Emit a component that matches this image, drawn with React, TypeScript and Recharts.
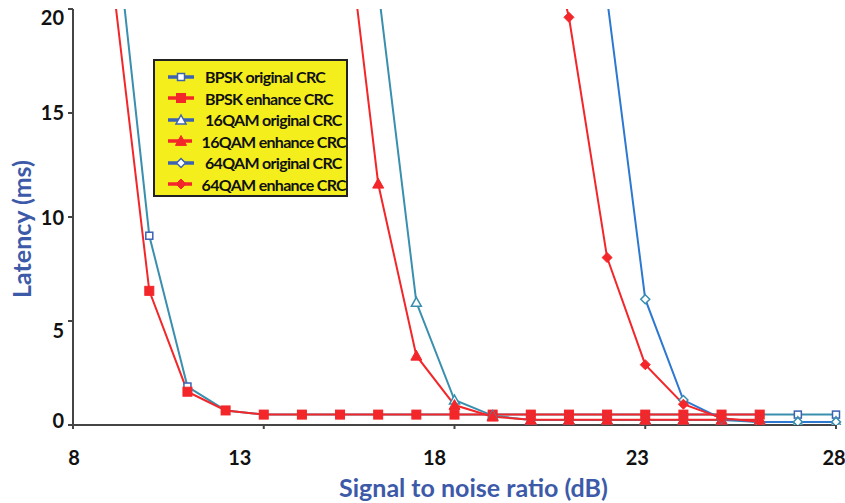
import React from 'react';
import {
  LineChart,
  Line,
  XAxis,
  YAxis,
  Legend,
} from 'recharts';

// SNR (dB) categories, one per integer step
const snr = [9, 10, 11, 12, 13, 14, 15, 16, 17, 18, 19, 20, 21, 22, 23, 24, 25, 26, 27, 28];

// latency (ms); values above 20 leave the plot at the top
const bpskOriginal = [26, 9.1, 1.85, 0.7, 0.5, 0.5, 0.5, 0.5, 0.5, 0.5, 0.5, 0.5, 0.5, 0.5, 0.5, 0.5, 0.5, 0.5, 0.5, 0.5];
const bpskEnhance = [22, 6.45, 1.6, 0.7, 0.5, 0.5, 0.5, 0.5, 0.5, 0.5, 0.5, 0.5, 0.5, 0.5, 0.5, 0.5, 0.5, 0.5, null, null];
const qam16Original = [null, null, null, null, null, null, null, 21, 5.9, 1.2, 0.45, 0.24, 0.24, 0.24, 0.24, 0.24, 0.24, 0.15, 0.15, 0.15];
const qam16Enhance = [null, null, null, null, null, null, 27, 11.6, 3.33, 0.96, 0.4, 0.25, 0.25, 0.25, 0.25, 0.25, 0.25, 0.25, null, null];
const qam64Original = [null, null, null, null, null, null, null, null, null, null, null, null, null, 20.5, 6.05, 1.2, 0.3, 0.15, 0.15, 0.15];
const qam64Enhance = [null, null, null, null, null, null, null, null, null, null, null, 27, 19.6, 8.05, 2.9, 1.0, 0.33, 0.16, null, null];

const xTicks = [8, 13, 18, 23, 28];
const yTicks = [0, 5, 10, 15, 20];

// small nudges of the tick labels, as they sit in the original figure
const xLabelShift: Record<number, number> = { 8: 1, 13: -24, 18: -20, 23: -8, 28: -2 };
const yLabelShift: Record<number, number> = { 0: -4, 5: 10, 10: 1, 15: 0, 20: 9 };

const data = snr.map((s, i) => ({
  snr: s,
  bpskO: bpskOriginal[i],
  bpskE: bpskEnhance[i],
  q16O: qam16Original[i],
  q16E: qam16Enhance[i],
  q64O: qam64Original[i],
  q64E: qam64Enhance[i],
}));

const RED = '#f3262a';
const TEAL = '#3a8fae';
const BLUE = '#2d78d0';
const MARK_BLUE = '#3c62b2';
const TITLE_BLUE = '#3d5aa9';
const FONT = 'Lato, "Open Sans", sans-serif';

type Shape = 'square' | 'triangle' | 'diamond';

function Marker({ cx, cy, shape, filled, color }: { cx: number; cy: number; shape: Shape; filled: boolean; color: string }) {
  const fill = filled ? color : '#fff';
  const sw = filled ? 1 : 1.5;
  if (shape === 'square') {
    const s = filled ? 9 : 7;
    return <rect x={cx - s / 2} y={cy - s / 2} width={s} height={s} fill={fill} stroke={color} strokeWidth={sw} />;
  }
  if (shape === 'triangle') {
    const s = filled ? 5.5 : 5;
    return (
      <polygon
        points={`${cx},${cy - s} ${cx + s},${cy + s * 0.8} ${cx - s},${cy + s * 0.8}`}
        fill={fill}
        stroke={color}
        strokeWidth={sw}
      />
    );
  }
  const s = filled ? 5 : 4.5;
  return (
    <polygon
      points={`${cx},${cy - s} ${cx + s},${cy} ${cx},${cy + s} ${cx - s},${cy}`}
      fill={fill}
      stroke={color}
      strokeWidth={sw}
    />
  );
}

const series = [
  { key: 'bpskO', name: 'BPSK original CRC', line: TEAL, mark: MARK_BLUE, legend: MARK_BLUE, shape: 'square' as Shape, filled: false },
  { key: 'bpskE', name: 'BPSK enhance CRC', line: RED, mark: RED, legend: RED, shape: 'square' as Shape, filled: true },
  { key: 'q16O', name: '16QAM original CRC', line: TEAL, mark: TEAL, legend: MARK_BLUE, shape: 'triangle' as Shape, filled: false },
  { key: 'q16E', name: '16QAM enhance CRC', line: RED, mark: RED, legend: RED, shape: 'triangle' as Shape, filled: true },
  { key: 'q64O', name: '64QAM original CRC', line: BLUE, mark: TEAL, legend: MARK_BLUE, shape: 'diamond' as Shape, filled: false },
  { key: 'q64E', name: '64QAM enhance CRC', line: RED, mark: RED, legend: RED, shape: 'diamond' as Shape, filled: true },
];

function LegendBox() {
  return (
    <div
      style={{
        background: '#f4ef1c',
        border: '2px solid #222',
        boxSizing: 'border-box',
        width: 195,
        height: 138,
        padding: '5px 0 0 12px',
        fontFamily: FONT,
      }}
    >
      {series.map((s) => (
        <div key={s.key} style={{ display: 'flex', alignItems: 'center', height: 21.5 }}>
          <svg width={28} height={14} style={{ marginRight: 10 }}>
            <line x1={1} y1={7} x2={27} y2={7} stroke={s.legend} strokeWidth={3.5} />
            <Marker cx={14} cy={7} shape={s.shape} filled={s.filled} color={s.legend} />
          </svg>
          <span style={{ fontSize: 16, fontWeight: 700, letterSpacing: -0.7, color: '#111', whiteSpace: 'nowrap' }}>
            {s.name}
          </span>
        </div>
      ))}
    </div>
  );
}

function XTick(props: any) {
  const { x, y, payload } = props;
  const shift = xLabelShift[payload.value] ?? 0;
  return (
    <text x={x + shift} y={y + 2} dy="0.71em" textAnchor="middle" fill="#111" fontSize={20} fontWeight={700} fontFamily={FONT}>
      {payload.value}
    </text>
  );
}

function YTick(props: any) {
  const { x, y, payload } = props;
  const shift = yLabelShift[payload.value] ?? 0;
  return (
    <text x={x} y={y + shift} dy="0.355em" textAnchor="end" fill="#111" fontSize={20} fontWeight={700} fontFamily={FONT}>
      {payload.value}
    </text>
  );
}

export default function App() {
  return (
    <div style={{ position: 'absolute', left: 0, top: 0, background: '#fff' }}>
      <LineChart width={845} height={503} data={data} margin={{ top: 9, right: 9, left: 0, bottom: 0 }}>
        <XAxis
          dataKey="snr"
          type="number"
          domain={[8, 28]}
          ticks={xTicks}
          height={78}
          stroke="#454545"
          strokeWidth={2}
          tickSize={4}
          tickMargin={20}
          tick={<XTick />}
          label={{
            content: (p: any) => {
              const vb = p.viewBox || { x: 0, y: 0, width: 0 };
              return (
                <text
                  x={vb.x + vb.width / 2 + 19}
                  y={vb.y + 72}
                  textAnchor="middle"
                  fill={TITLE_BLUE}
                  fontSize={25}
                  fontWeight={700}
                  fontFamily={FONT}
                >
                  Signal to noise ratio (dB)
                </text>
              );
            },
          }}
        />
        <XAxis xAxisId="top" orientation="top" type="number" domain={[8, 28]} height={0} tick={false} tickLine={false} stroke="#333" strokeWidth={2} />
        <YAxis
          domain={[0, 20]}
          ticks={yTicks}
          allowDataOverflow
          width={73}
          stroke="#454545"
          strokeWidth={2}
          tickSize={5}
          tickMargin={4}
          tick={<YTick />}
          label={{
            content: (p: any) => {
              const vb = p.viewBox || { x: 0, y: 0, height: 0 };
              const cx = vb.x + 25;
              const cy = vb.y + vb.height / 2 + 12;
              return (
                <text
                  x={cx}
                  y={cy}
                  transform={`rotate(-90, ${cx}, ${cy})`}
                  textAnchor="middle"
                  dominantBaseline="middle"
                  fill={TITLE_BLUE}
                  fontSize={25}
                  fontWeight={700}
                  fontFamily={FONT}
                >
                  Latency (ms)
                </text>
              );
            },
          }}
        />
        <YAxis yAxisId="right" orientation="right" domain={[0, 20]} width={0} tick={false} tickLine={false} stroke="#333" strokeWidth={2} />
        <Legend
          layout="vertical"
          align="center"
          verticalAlign="middle"
          wrapperStyle={{ left: 153, top: 59, width: 195 }}
          content={() => <LegendBox />}
        />
        {series.map((s) => (
          <Line
            key={s.key}
            type="linear"
            dataKey={s.key}
            name={s.name}
            stroke={s.line}
            strokeWidth={2}
            connectNulls={false}
            isAnimationActive={false}
            dot={(p: any) => {
              if (p.cx == null || p.cy == null || p.value == null) return <g key={`${s.key}-${p.index}`} />;
              return (
                <g key={`${s.key}-${p.index}`}>
                  <Marker cx={p.cx} cy={p.cy} shape={s.shape} filled={s.filled} color={s.mark} />
                </g>
              );
            }}
            activeDot={false}
          />
        ))}
      </LineChart>
    </div>
  );
}
